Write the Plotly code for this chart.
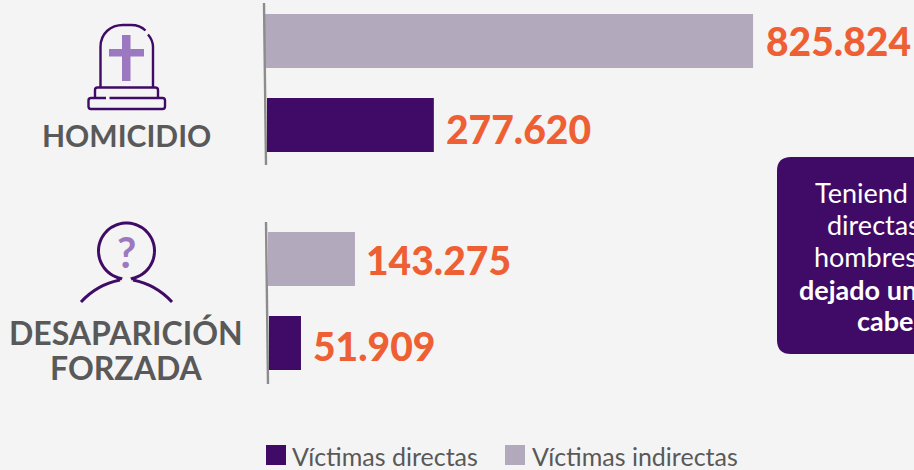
import numpy as np
import plotly.graph_objects as go

W, H = 914, 470
FONT = "Lato"
PURPLE = "#3f0b66"
LILAC = "#b3a9bc"
ICON = "#9b78bf"
ORANGE = "#ee6033"
GREY = "#595959"
BG = "#f4f4f4"

series_names = ["Víctimas directas", "Víctimas indirectas"]
homicidio_values = [277620, 825824]
desaparicion_values = [51909, 143275]
category_lines = ["HOMICIDIO", "DESAPARICIÓN", "FORZADA"]
note_lines = ["Teniend", "directas", "hombres", "dejado un", "cabe"]

fig = go.Figure()
FULL = 1_000_000


def fmt(v):
    return f"{v:,}".replace(",", ".")


def xdom(start, px_per_full):
    return [start / W, (start + px_per_full) / W]


def ydom(top, bottom):
    return [1 - bottom / H, 1 - top / H]


# (value, series index, y axis, x axis id, px start, px per full scale, label x-shift, label y-shift)
bars = [
    (homicidio_values[1], 1, "y", "x", 265, 591, 11, 0),
    (homicidio_values[0], 0, "y", "x2", 267, 601, 10, 4),
    (desaparicion_values[1], 1, "y2", "x3", 268, 607, 9, 1),
    (desaparicion_values[0], 0, "y2", "x4", 269, 616, 10, 3),
]
anns = []
for v, s, ya, xa, start, scale, dx, dy in bars:
    fig.add_trace(go.Bar(
        x=[v], y=[series_names[s]], orientation="h", xaxis=xa, yaxis=ya,
        marker=dict(color=PURPLE if s == 0 else LILAC, line=dict(width=0)),
        width=54 / 84, name=series_names[s], showlegend=False, hoverinfo="skip",
    ))
    anns.append(dict(
        x=v, y=series_names[s], xref=xa, yref=ya, text=fmt(v),
        xanchor="left", yanchor="middle", xshift=dx, yshift=-dy, showarrow=False,
        font=dict(family=FONT, size=39, color=ORANGE, weight=900),
    ))
    name = "xaxis" if xa == "x" else "xaxis" + xa[1:]
    fig.layout[name] = dict(
        domain=xdom(start, scale), range=[0, FULL], visible=False, anchor=ya,
    )

order = series_names[::-1]
fig.layout.yaxis = dict(
    domain=ydom(0, 168), range=[(168 - 41) / 84, -41 / 84], type="category",
    categoryorder="array", categoryarray=order, visible=False, anchor="x",
)
fig.layout.yaxis2 = dict(
    domain=ydom(200, 400), range=[(400 - 259) / 84, (200 - 259) / 84], type="category",
    categoryorder="array", categoryarray=order, visible=False, anchor="x3",
)
# full-page pixel overlay for decoration
fig.layout.xaxis5 = dict(domain=[0, 1], range=[0, W], visible=False, anchor="y3")
fig.layout.yaxis3 = dict(domain=[0, 1], range=[H, 0], visible=False, anchor="x5")
fig.add_trace(go.Scatter(x=[0], y=[0], xaxis="x5", yaxis="y3", mode="markers",
                         marker=dict(opacity=0), showlegend=False, hoverinfo="skip"))


def shape(path, color=PURPLE, width=2.4, fill=None):
    return dict(type="path", path=path, xref="x5", yref="y3", layer="above",
                line=dict(color=color, width=width), fillcolor=fill or "rgba(0,0,0,0)")


def rect(x0, y0, x1, y1, color):
    return dict(type="rect", x0=x0, y0=y0, x1=x1, y1=y1, xref="x5", yref="y3",
                layer="above", line=dict(width=0), fillcolor=color)


shapes = []
# axis rules
shapes.append(dict(type="line", x0=264, y0=3, x1=266, y1=165, xref="x5", yref="y3",
                   layer="above", line=dict(color="#8c8c8c", width=2.4)))
shapes.append(dict(type="line", x0=266, y0=222, x1=268, y1=384, xref="x5", yref="y3",
                   layer="above", line=dict(color="#8c8c8c", width=2.4)))
# tombstone
shapes.append(shape("M100.5,87 V47 C100.5,33 111,25 123,25 H131 C137,25 142,27 145.5,30.5"))
shapes.append(shape("M148,34.5 C151,38 153,42 153,47 V87"))
shapes.append(shape("M95,98 V90 Q95,87.5 97.5,87.5 H155 Q158,87.5 158,90 V98"))
shapes.append(shape("M106,98 H91 Q88.5,98 88.5,100.5 V106.5 Q88.5,109 91,109 H162.5 Q165,109 165,106.5 V100.5 Q165,98 162.5,98 H109.5"))
shapes.append(rect(122, 35, 130.5, 81, ICON))
shapes.append(rect(109, 49, 144, 56.5, ICON))
# person
cx, cy, r = 126.5, 251, 28
ang = np.radians(np.linspace(102, 438, 60))
pts = [f"{cx + r * np.cos(a):.1f},{cy + r * np.sin(a):.1f}" for a in ang]
shapes.append(shape("M120,280 L" + " L".join(pts) + " L133,280", width=3))
shapes.append(shape("M81,302 C92,290 105,283 120,280", width=3))
shapes.append(shape("M172,302 C161,290 148,283 133,280", width=3))
# note box
shapes.append(dict(type="path", xref="x5", yref="y3", layer="below", line=dict(width=0),
                   fillcolor=PURPLE,
                   path="M791,157 H930 V354 H791 Q777,354 777,340 V171 Q777,157 791,157 Z"))
# legend swatches
shapes.append(rect(266, 445, 286, 465, PURPLE))
shapes.append(rect(505, 445, 525, 465, LILAC))


def txt(x, y, s, size, color, anchor="center"):
    return dict(x=x, y=y, xref="x5", yref="y3", text=s, showarrow=False, xanchor=anchor,
                yanchor="middle", font=dict(family=FONT, size=size, color=color))


anns += [
    txt(126, 135, f"<b>{category_lines[0]}</b>", 30, GREY),
    txt(126, 332, f"<b>{category_lines[1]}</b>", 32, GREY),
    txt(126, 367, f"<b>{category_lines[2]}</b>", 32, GREY),
    txt(126.5, 252, "<b>?</b>", 42, ICON),
    txt(290, 456, series_names[0], 25, GREY, "left"),
    txt(530, 456, series_names[1], 25, GREY, "left"),
    txt(813, 192, note_lines[0], 27, "#ffffff", "left"),
    txt(825, 224, note_lines[1], 27, "#ffffff", "left"),
    txt(812, 256, note_lines[2], 27, "#ffffff", "left"),
    txt(797, 289, f"<b>{note_lines[3]}</b>", 27, "#ffffff", "left"),
    txt(855, 320, f"<b>{note_lines[4]}</b>", 27, "#ffffff", "left"),
]

fig.update_layout(
    width=W, height=H, margin=dict(l=0, r=0, t=0, b=0, pad=0), autosize=False,
    paper_bgcolor=BG, plot_bgcolor="rgba(0,0,0,0)", barmode="overlay",
    showlegend=False, shapes=shapes, annotations=anns, font=dict(family=FONT),
)
fig.write_html("out.html", config={"displayModeBar": False},
               post_script="document.body.style.margin='0';document.body.style.overflow='hidden';document.body.style.background='#f4f4f4';")
